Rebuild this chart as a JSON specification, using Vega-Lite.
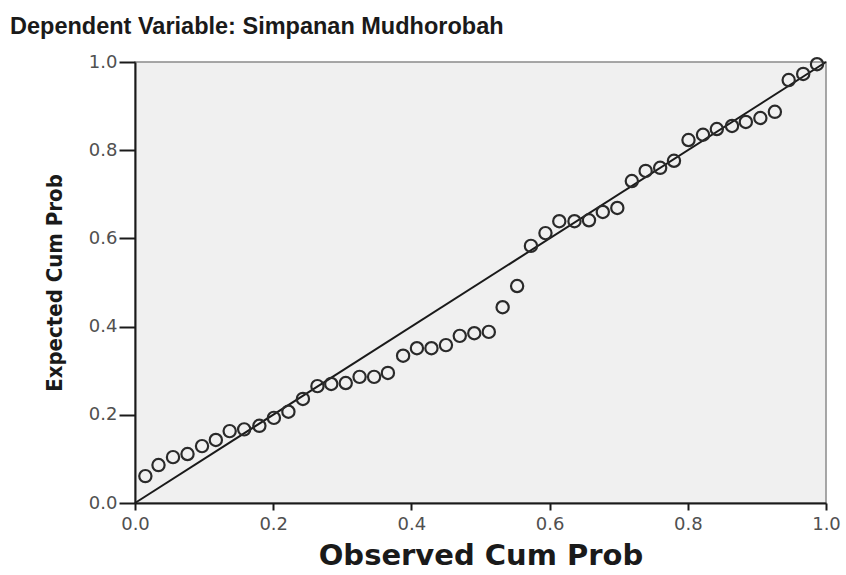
{
  "$schema": "https://vega.github.io/schema/vega-lite/v6.json",
  "width": 691,
  "height": 441,
  "autosize": {"type": "none"},
  "padding": {"left": 135, "top": 62, "right": 20, "bottom": 72},
  "background": "white",
  "view": {"fill": "#f0f0f0", "stroke": "#8a8a8a", "strokeWidth": 1.5},
  "title": {
    "text": "Dependent Variable: Simpanan Mudhorobah",
    "anchor": "start",
    "frame": "group",
    "dx": -125,
    "offset": 15,
    "font": "Liberation Sans",
    "fontSize": 23.5,
    "fontWeight": "bold",
    "color": "#1a1a1a"
  },
  "datasets": {
    "pts": [
      {"obs": 0.015, "exp": 0.061}, {"obs": 0.034, "exp": 0.086}, {"obs": 0.055, "exp": 0.104},
      {"obs": 0.076, "exp": 0.111}, {"obs": 0.097, "exp": 0.129}, {"obs": 0.117, "exp": 0.143},
      {"obs": 0.137, "exp": 0.163}, {"obs": 0.158, "exp": 0.167}, {"obs": 0.180, "exp": 0.175},
      {"obs": 0.201, "exp": 0.193}, {"obs": 0.222, "exp": 0.207}, {"obs": 0.243, "exp": 0.236},
      {"obs": 0.264, "exp": 0.265}, {"obs": 0.284, "exp": 0.270}, {"obs": 0.305, "exp": 0.272},
      {"obs": 0.325, "exp": 0.286}, {"obs": 0.346, "exp": 0.286}, {"obs": 0.366, "exp": 0.295},
      {"obs": 0.388, "exp": 0.334}, {"obs": 0.408, "exp": 0.351}, {"obs": 0.429, "exp": 0.351},
      {"obs": 0.450, "exp": 0.358}, {"obs": 0.470, "exp": 0.379}, {"obs": 0.491, "exp": 0.385},
      {"obs": 0.512, "exp": 0.388}, {"obs": 0.532, "exp": 0.444}, {"obs": 0.553, "exp": 0.492},
      {"obs": 0.573, "exp": 0.583}, {"obs": 0.594, "exp": 0.612}, {"obs": 0.614, "exp": 0.639},
      {"obs": 0.636, "exp": 0.639}, {"obs": 0.657, "exp": 0.641}, {"obs": 0.677, "exp": 0.660},
      {"obs": 0.698, "exp": 0.669}, {"obs": 0.719, "exp": 0.730}, {"obs": 0.739, "exp": 0.753},
      {"obs": 0.760, "exp": 0.760}, {"obs": 0.780, "exp": 0.776}, {"obs": 0.801, "exp": 0.823},
      {"obs": 0.822, "exp": 0.835}, {"obs": 0.842, "exp": 0.848}, {"obs": 0.864, "exp": 0.855},
      {"obs": 0.884, "exp": 0.864}, {"obs": 0.905, "exp": 0.873}, {"obs": 0.926, "exp": 0.887},
      {"obs": 0.946, "exp": 0.959}, {"obs": 0.967, "exp": 0.973}, {"obs": 0.987, "exp": 0.995}
    ],
    "diag": [{"x": 0, "y": 0, "x2": 1, "y2": 1}]
  },
  "layer": [
    {
      "data": {"name": "diag"},
      "mark": {"type": "rule", "color": "#1a1a1a", "strokeWidth": 2},
      "encoding": {
        "x": {"field": "x", "type": "quantitative", "scale": {"domain": [0, 1]}},
        "y": {"field": "y", "type": "quantitative", "scale": {"domain": [0, 1]}},
        "x2": {"field": "x2"},
        "y2": {"field": "y2"}
      }
    },
    {
      "data": {"name": "pts"},
      "mark": {"type": "point", "shape": "circle", "filled": false, "size": 150, "stroke": "#2a2a2a", "strokeWidth": 2.2, "opacity": 1},
      "encoding": {
        "x": {
          "field": "obs", "type": "quantitative",
          "scale": {"domain": [0, 1], "nice": false},
          "axis": {
            "title": "Observed Cum Prob",
            "values": [0, 0.2, 0.4, 0.6, 0.8, 1.0],
            "format": ".1f",
            "grid": false,
            "domainColor": "#1a1a1a", "domainWidth": 2,
            "tickColor": "#1a1a1a", "tickWidth": 2, "tickSize": 7,
            "labelFont": "DejaVu Sans", "labelFontSize": 18, "labelColor": "#505050",
            "labelPadding": 5, "labelFlush": false,
            "titleFont": "DejaVu Sans", "titleFontSize": 29, "titleFontWeight": "bold", "titleColor": "#1a1a1a",
            "titlePadding": 8
          }
        },
        "y": {
          "field": "exp", "type": "quantitative",
          "scale": {"domain": [0, 1], "nice": false},
          "axis": {
            "title": "Expected Cum Prob",
            "values": [0, 0.2, 0.4, 0.6, 0.8, 1.0],
            "format": ".1f",
            "grid": false,
            "domainColor": "#1a1a1a", "domainWidth": 2,
            "tickColor": "#1a1a1a", "tickWidth": 2, "tickSize": 16,
            "labelFont": "DejaVu Sans", "labelFontSize": 18, "labelColor": "#505050",
            "labelPadding": 2, "labelFlush": false,
            "titleFont": "DejaVu Sans Condensed", "titleFontSize": 22, "titleFontWeight": "bold", "titleColor": "#1a1a1a",
            "titlePadding": 22
          }
        }
      }
    }
  ]
}
